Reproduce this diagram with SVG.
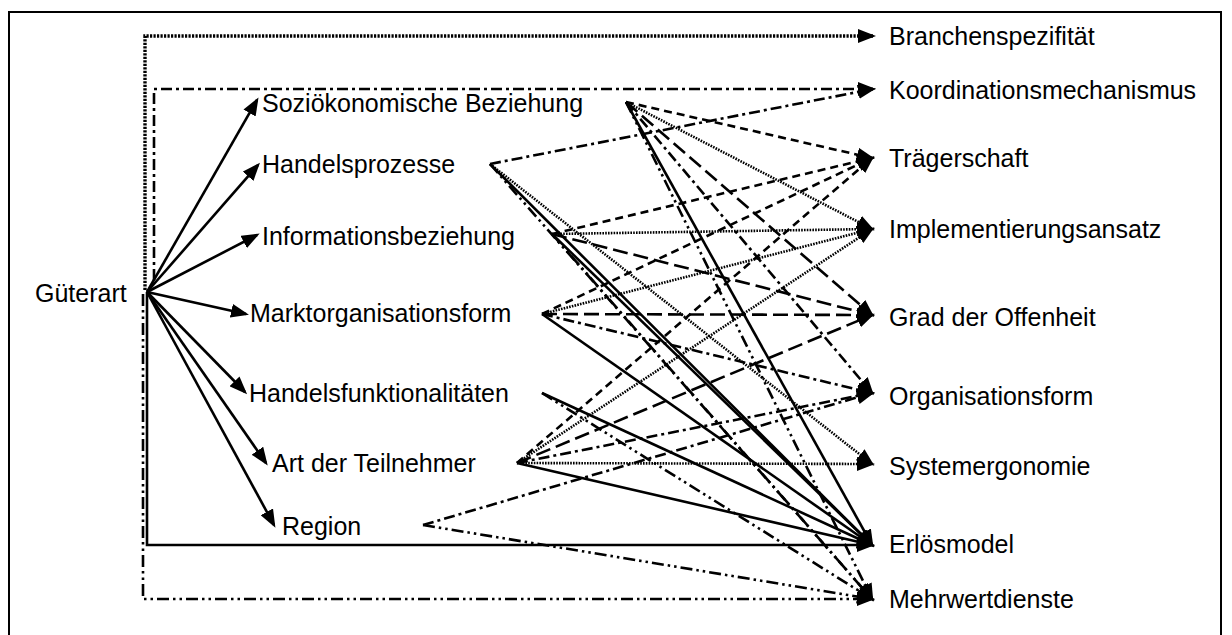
<svg xmlns="http://www.w3.org/2000/svg" width="1232" height="635" viewBox="0 0 1232 635">
<style>
text{font-family:"Liberation Sans",Arial,sans-serif;font-size:25px;fill:#000}
.c{fill:none;stroke:#000;stroke-width:2.6;marker-end:url(#ah)}
.sol{}
.br{stroke-width:3.4;stroke-dasharray:2.2 1.3}
.dd{stroke-dasharray:11 4 3 4}
.da{stroke-dasharray:8 5}
.fd{stroke-width:2.6;stroke-dasharray:1.6 1.2}
.ld{stroke-dasharray:15 6}
.d2{stroke-dasharray:12 4 2.5 4 2.5 4}
</style>
<defs>
<marker id="ah" markerUnits="userSpaceOnUse" markerWidth="18" markerHeight="14" refX="15" refY="7" orient="auto">
<path d="M0,0 L18,7 L0,14 z" fill="#000"/>
</marker>
</defs>
<rect width="1232" height="635" fill="#fff"/>
<path d="M9,640 V12 H1221 V640" fill="none" stroke="#000" stroke-width="2"/>

<g id="connectors">
<!-- Gueterart fan -->
<path class="c sol" d="M147,292 L257,100"/>
<path class="c sol" d="M147,292 L258,165"/>
<path class="c sol" d="M147,292 L257,235"/>
<path class="c sol" d="M147,292 L246,314"/>
<path class="c sol" d="M147,292 L245,392"/>
<path class="c sol" d="M147,292 L266,463"/>
<path class="c sol" d="M147,292 L274,525"/>
<!-- frame routes -->
<path class="c br" d="M145,290 V36 H873"/>
<path class="c dd" d="M154,280 V89 H873"/>
<path class="c sol" d="M147,292 V545 H872"/>
<path class="c d2" d="M143,294 V599 H872"/>
<!-- Koordinationsmechanismus -->
<path class="c dd" d="M490,164 L873,89"/>
<!-- Traegerschaft -->
<path class="c da" d="M626,102 L872,158"/>
<path class="c da" d="M552,234 L872,158"/>
<path class="c da" d="M542,314 L872,158"/>
<path class="c da" d="M517,463 L872,158"/>
<!-- Implementierungsansatz -->
<path class="c fd" d="M626,102 L872,229"/>
<path class="c fd" d="M552,234 L872,229"/>
<path class="c fd" d="M542,314 L872,229"/>
<path class="c fd" d="M517,463 L872,229"/>
<!-- Grad der Offenheit -->
<path class="c ld" d="M626,102 L872,315"/>
<path class="c ld" d="M552,234 L872,315"/>
<path class="c ld" d="M542,314 L872,315"/>
<path class="c ld" d="M517,463 L872,315"/>
<!-- Organisationsform -->
<path class="c dd" d="M626,102 L872,393"/>
<path class="c dd" d="M542,314 L872,393"/>
<path class="c dd" d="M517,463 L872,393"/>
<path class="c dd" d="M423,525 L872,393"/>
<!-- Systemergonomie -->
<path class="c fd" d="M490,164 L872,464"/>
<path class="c fd" d="M517,463 L872,464"/>
<!-- Erloesmodel -->
<path class="c sol" d="M626,102 L872,545"/>
<path class="c sol" d="M490,164 L872,545"/>
<path class="c sol" d="M552,234 L872,545"/>
<path class="c sol" d="M542,314 L872,545"/>
<path class="c sol" d="M542,393 L872,545"/>
<path class="c sol" d="M517,463 L872,545"/>
<!-- Mehrwertdienste -->
<path class="c d2" d="M626,102 L872,599"/>
<path class="c d2" d="M490,164 L872,599"/>
<path class="c d2" d="M552,234 L872,599"/>
<path class="c d2" d="M542,393 L872,599"/>
<path class="c d2" d="M423,525 L872,599"/>
</g>

<g id="n-gueterart"><text x="35" y="302">Güterart</text></g>
<g id="n-sozio"><text x="262" y="112">Soziökonomische Beziehung</text></g>
<g id="n-handelsprozesse"><text x="262" y="173">Handelsprozesse</text></g>
<g id="n-informationsbeziehung"><text x="262" y="245">Informationsbeziehung</text></g>
<g id="n-marktorganisationsform"><text x="250" y="322">Marktorganisationsform</text></g>
<g id="n-handelsfunktionalitaeten"><text x="249" y="402">Handelsfunktionalitäten</text></g>
<g id="n-art"><text x="272" y="472">Art der Teilnehmer</text></g>
<g id="n-region"><text x="282" y="535">Region</text></g>

<g id="n-branchenspezifitaet"><text x="889" y="45">Branchenspezifität</text></g>
<g id="n-koordination"><text x="889" y="99">Koordinationsmechanismus</text></g>
<g id="n-traegerschaft"><text x="889" y="167">Trägerschaft</text></g>
<g id="n-implementierung"><text x="889" y="238">Implementierungsansatz</text></g>
<g id="n-grad"><text x="889" y="326">Grad der Offenheit</text></g>
<g id="n-organisationsform"><text x="889" y="405">Organisationsform</text></g>
<g id="n-systemergonomie"><text x="889" y="475">Systemergonomie</text></g>
<g id="n-erloesmodel"><text x="889" y="553">Erlösmodel</text></g>
<g id="n-mehrwertdienste"><text x="889" y="608">Mehrwertdienste</text></g>
</svg>
